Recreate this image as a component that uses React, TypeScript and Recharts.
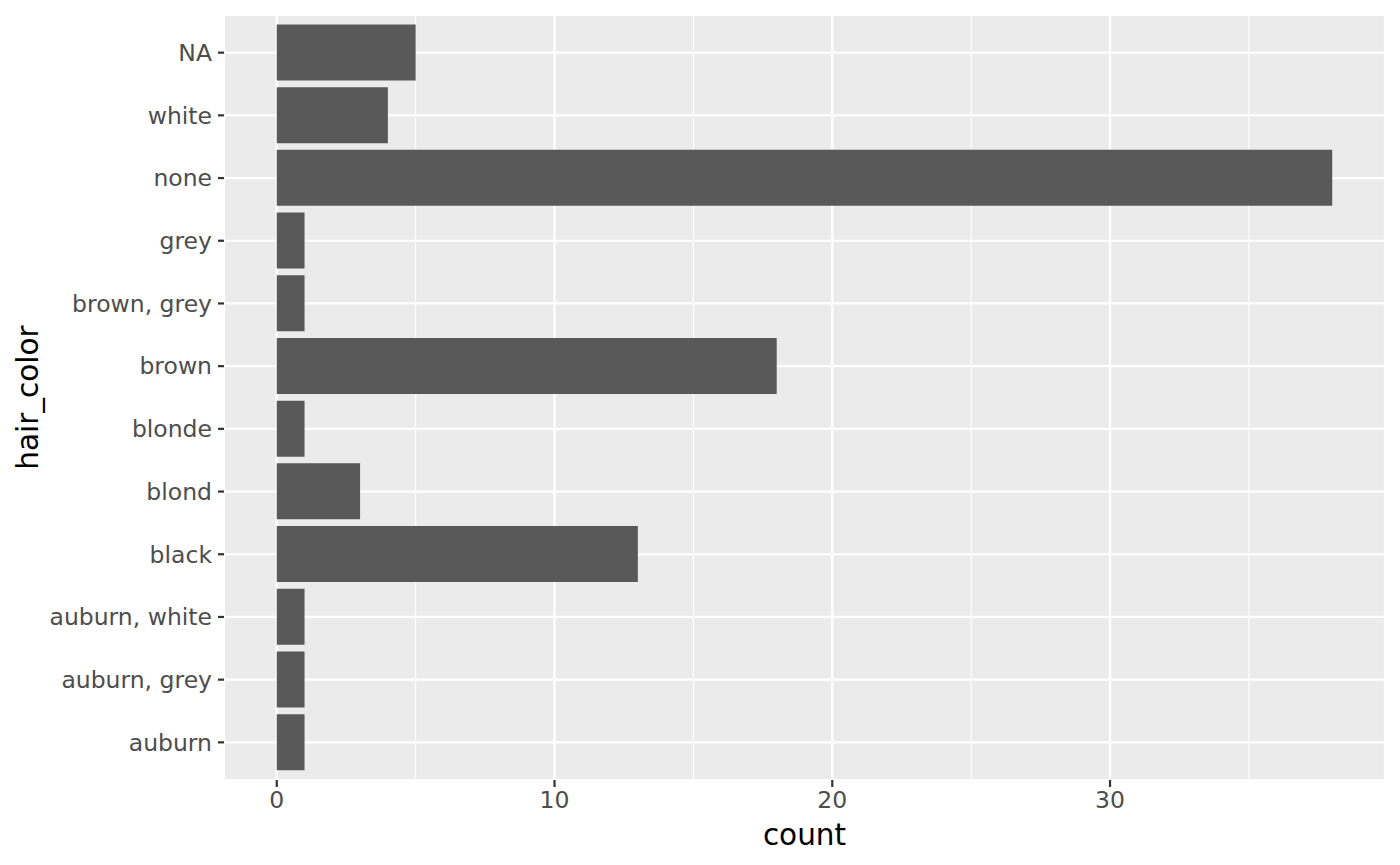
import React from 'react';
import { BarChart, Bar, XAxis, YAxis, CartesianGrid } from 'recharts';

const categories = ['NA', 'white', 'none', 'grey', 'brown, grey', 'brown', 'blonde', 'blond', 'black', 'auburn, white', 'auburn, grey', 'auburn'];
const counts = [5, 4, 38, 1, 1, 18, 1, 3, 13, 1, 1, 1];
const majorTicks = [0, 10, 20, 30];
const minorTicks = [5, 15, 25, 35];
const xDomain = [-1.9, 39.9];

const data = categories.map((c, i) => ({ name: c, count: counts[i] }));

const FONT = 'DejaVu Sans';

export default function App() {
  return (
    <div style={{ position: 'absolute', left: 0, top: 0, width: 1400, height: 865, background: '#fff' }}>
      <BarChart
        width={1400}
        height={865}
        data={data}
        layout="vertical"
        margin={{ top: 15, right: 15, left: 0, bottom: 0 }}
        barCategoryGap="5%"
      >
        <CartesianGrid fill="#EBEBEB" stroke="#FFFFFF" strokeWidth={2.2} />
        <CartesianGrid
          xAxisId="minor"
          fill="none"
          stroke="#FFFFFF"
          strokeWidth={1.1}
          horizontal={false}
        />
        <XAxis
          xAxisId="minor"
          type="number"
          domain={xDomain}
          ticks={minorTicks}
          allowDataOverflow
          hide
        />
        <XAxis
          type="number"
          dataKey="count"
          domain={xDomain}
          ticks={majorTicks}
          allowDataOverflow
          axisLine={false}
          tickSize={7}
          tickMargin={4}
          height={85}
          tickLine={{ stroke: '#333333', strokeWidth: 2.2 }}
          tick={{ fontSize: 23.5, fill: '#4D4D4D', fontFamily: FONT }}
          label={{
            content: (p: any) => (
              <text
                x={p.viewBox.x + p.viewBox.width / 2}
                y={845}
                textAnchor="middle"
                fontSize={29.5}
                fontFamily={FONT}
                fill="#000"
              >
                count
              </text>
            ),
          }}
        />
        <YAxis
          type="category"
          dataKey="name"
          width={224}
          padding={{ top: 6.3, bottom: 6.3 }}
          axisLine={false}
          tickSize={6}
          tickMargin={6}
          interval={0}
          tickLine={{ stroke: '#333333', strokeWidth: 2.2 }}
          tick={{ fontSize: 23.5, fill: '#4D4D4D', fontFamily: FONT }}
          label={{
            content: (p: any) => {
              const cx = 38;
              const cy = p.viewBox.y + p.viewBox.height / 2;
              return (
                <text
                  x={cx}
                  y={cy}
                  textAnchor="middle"
                  fontSize={29.5}
                  fontFamily={FONT}
                  fill="#000"
                  transform={`rotate(-90 ${cx} ${cy})`}
                >
                  hair_color
                </text>
              );
            },
          }}
        />
        <Bar dataKey="count" fill="#595959" isAnimationActive={false} />
      </BarChart>
    </div>
  );
}
